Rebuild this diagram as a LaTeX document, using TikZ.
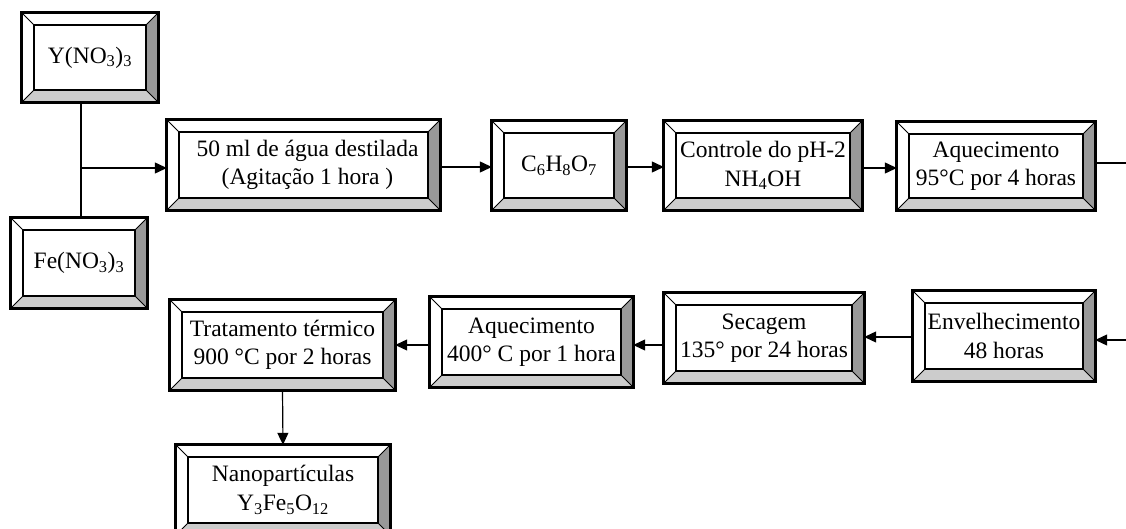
\documentclass[tikz,border=0pt]{standalone}
\usepackage{fontspec}
\setmainfont{Liberation Serif}
\usetikzlibrary{arrows.meta}
\definecolor{bevdark}{HTML}{999999}
\definecolor{bevlight}{HTML}{CCCCCC}
\tikzset{
  bevbox/.style={draw=none, inner sep=0pt, align=center,
    font=\fontsize{23.5}{28.5}\selectfont},
  conn/.style={line width=1.2pt},
  arr/.style={conn, -{Triangle[length=12pt,width=11pt]}},
}
\newcommand\bevelof[1]{%
  \fill[bevdark] (#1.north east) -- (#1.south east) -- ([shift={(-12,12)}]#1.south east) -- ([shift={(-12,-12)}]#1.north east) -- cycle;
  \fill[bevlight] (#1.south west) -- (#1.south east) -- ([shift={(-12,12)}]#1.south east) -- ([shift={(12,12)}]#1.south west) -- cycle;
  \draw[line width=1pt] (#1.north west) -- ([shift={(12,-12)}]#1.north west)
    (#1.north east) -- ([shift={(-12,-12)}]#1.north east)
    (#1.south west) -- ([shift={(12,12)}]#1.south west)
    (#1.south east) -- ([shift={(-12,12)}]#1.south east);
  \draw[line width=2pt] ([shift={(12,12)}]#1.south west) rectangle ([shift={(-12,-12)}]#1.north east);
  \draw[line width=3pt] (#1.south west) rectangle (#1.north east);
}
\begin{document}
\begin{tikzpicture}[x=1pt,y=1pt]
\clip (0,0) rectangle (1126,-529);
\fill[white] (0,0) rectangle (1126,-529);
% row 1
\node[bevbox, minimum width=136, minimum height=89] (y) at (90,-57.5) {Y(NO\textsubscript{3})\textsubscript{3}};
\node[bevbox, minimum width=136, minimum height=90] (fe) at (79,-263) {Fe(NO\textsubscript{3})\textsubscript{3}};
\node[bevbox, minimum width=273, minimum height=90] (agua) at (303.5,-165) {\hspace*{8pt}50 ml de água destilada\\\hspace*{8pt}(Agitação 1 hora )};
\node[bevbox, minimum width=134, minimum height=89] (cit) at (559,-165.5) {C\textsubscript{6}H\textsubscript{8}O\textsubscript{7}};
\node[bevbox, minimum width=198, minimum height=89] (ph) at (763,-165.5) {Controle do pH-2\\NH\textsubscript{4}OH};
\node[bevbox, minimum width=198, minimum height=88] (aq95) at (996,-166) {Aquecimento\\95°C por 4 horas};
% row 2
\node[bevbox, minimum width=182, minimum height=90] (env) at (1004,-336) {Envelhecimento\\48 horas};
\node[bevbox, minimum width=200, minimum height=90] (sec) at (764,-338) {Secagem\\135° por 24 horas};
\node[bevbox, minimum width=203, minimum height=90] (aq400) at (531.5,-342) {Aquecimento\\400° C por 1 hora};
\node[bevbox, minimum width=225, minimum height=90] (trat) at (282.5,-345) {Tratamento térmico\\900 °C por 2 horas};
\node[bevbox, minimum width=214, minimum height=90] (nano) at (283,-490) {Nanopartículas\\Y\textsubscript{3}Fe\textsubscript{5}O\textsubscript{12}};
% bevels
\foreach \n in {y,fe,agua,cit,ph,aq95,env,sec,aq400,trat,nano} {\bevelof{\n}}
% connectors
\coordinate (j) at (81,-168);
\coordinate (r1) at (1126,-163);
\coordinate (r2) at (1126,-340);
\draw[conn] (y.south -| j) -- (fe.north -| j);
\draw[arr] (j) -- (j -| agua.west);
\draw[arr] (agua.east |- 0,-167) -- (cit.west |- 0,-167);
\draw[arr] (cit.east |- 0,-167) -- (ph.west |- 0,-167);
\draw[arr] (ph.east |- 0,-168) -- (aq95.west |- 0,-168);
\draw[conn] (aq95.east |- r1) -- (r1);
\draw[arr] (r2) -- (r2 -| env.east);
\draw[arr] (env.west |- 0,-337) -- (sec.east |- 0,-337);
\draw[arr] (sec.west |- 0,-345) -- (aq400.east |- 0,-345);
\draw[arr] (aq400.west |- 0,-345) -- (trat.east |- 0,-345);
\draw[arr] (trat.south) -- (nano.north);
\end{tikzpicture}
\end{document}
